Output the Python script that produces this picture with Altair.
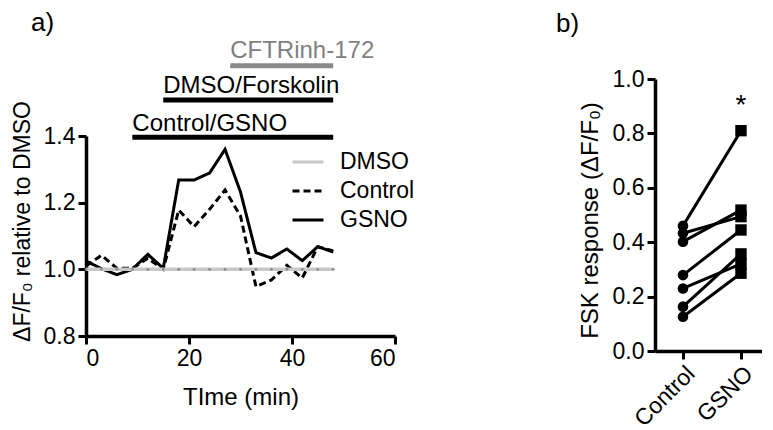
import altair as alt
import pandas as pd

# ---------------- data: panel a ----------------
time_min = [0, 3, 6, 9, 12, 15, 18, 21, 24, 27, 30, 33, 36, 39, 42, 45, 48]
dmso = [1.0, 1.0, 1.0, 1.0, 1.0, 1.0, 1.0, 1.0, 1.0, 1.0, 1.0, 1.0, 1.0, 1.0, 1.0, 1.0, 1.0]
control = [1.01, 1.042, 1.003, 1.003, 1.033, 1.0, 1.178, 1.128, 1.18, 1.238, 1.16,
           0.948, 0.968, 1.012, 0.974, 1.068, 1.055]
gsno = [1.025, 1.002, 0.984, 1.0, 1.045, 1.003, 1.268, 1.268, 1.289, 1.36, 1.232,
        1.05, 1.034, 1.061, 1.026, 1.068, 1.052]
series_names = ["DMSO", "Control", "GSNO"]

treat_labels = ["Control/GSNO", "DMSO/Forskolin", "CFTRinh-172"]
treat_start = [9, 15, 28]
treat_end = [48, 48, 48]
treat_bar_level = [1.396, 1.508, 1.611]
treat_text_level = [1.416, 1.528, 1.633]
treat_kind = ["black", "black", "gray"]

# ---------------- data: panel b ----------------
pair_groups = ["Control", "GSNO"]
resp_control = [0.46, 0.433, 0.402, 0.279, 0.23, 0.163, 0.126]
resp_gsno = [0.81, 0.494, 0.518, 0.445, 0.32, 0.357, 0.286]
sig_label = "*"
sig_level = 0.87

FONT = "Liberation Sans"

# ---------------- tables ----------------
rows = []
for name, vals in zip(series_names, [dmso, control, gsno]):
    for t, v in zip(time_min, vals):
        rows.append({"t": t, "v": v, "series": name})
df_a = pd.DataFrame(rows)

df_treat = pd.DataFrame({"label": treat_labels, "t": treat_start, "t2": treat_end,
                         "v": treat_bar_level, "vt": treat_text_level, "kind": treat_kind})

prow = []
for i, (c, g) in enumerate(zip(resp_control, resp_gsno)):
    prow.append({"pair": i, "group": pair_groups[0], "resp": c})
    prow.append({"pair": i, "group": pair_groups[1], "resp": g})
df_b = pd.DataFrame(prow)
df_sig = pd.DataFrame({"group": [pair_groups[1]], "resp": [sig_level], "label": [sig_label]})

# ---------------- panel a ----------------
ya_scale = alt.Scale(domain=[0.8, 1.4], range=[296, 96], nice=False, zero=False)
xa = alt.X("t:Q", scale=alt.Scale(domain=[0, 60], nice=False),
           axis=alt.Axis(values=[0, 20, 40, 60], title="TIme (min)", titlePadding=15,
                         titleFontSize=24))
ya = alt.Y("v:Q", scale=ya_scale,
           axis=alt.Axis(values=[0.8, 1.0, 1.2, 1.4], format=".1f",
                         title="ΔF/F₀ relative to DMSO", titleY=181, titlePadding=9,
                         titleFontSize=23))

leg = alt.Legend(orient="none", legendX=205, legendY=105, title=None)
col = alt.Color("series:N", scale=alt.Scale(domain=series_names, range=["#c8c8c8", "black", "black"]),
                legend=leg)
dash = alt.StrokeDash("series:N", scale=alt.Scale(domain=series_names, range=[[1, 0], [7, 4], [1, 0]]),
                      legend=leg)

base_a = alt.Chart(df_a)
lines_black = base_a.transform_filter(alt.datum.series != "DMSO").mark_line(strokeWidth=3).encode(
    x=xa, y=ya, color=col, strokeDash=dash, detail="series:N")
line_dmso = base_a.transform_filter(alt.datum.series == "DMSO").mark_line(strokeWidth=3.5).encode(
    x=xa, y=ya, color=col, strokeDash=dash)
dots_dmso = base_a.transform_filter(alt.datum.series == "DMSO").mark_circle(
    size=8, color="#8a8a8a", opacity=1).encode(x=xa, y=ya)

base_t = alt.Chart(df_treat)
bars_black = base_t.transform_filter(alt.datum.kind == "black").mark_rule(
    strokeWidth=5, color="black").encode(x=xa, x2="t2:Q", y=ya)
bars_gray = base_t.transform_filter(alt.datum.kind == "gray").mark_rule(
    strokeWidth=5, color="#8a8a8a").encode(x=xa, x2="t2:Q", y=ya)
text_black = base_t.transform_filter(alt.datum.kind == "black").mark_text(
    align="left", baseline="alphabetic", fontSize=24, font=FONT, color="black").encode(
    x=xa, y=alt.Y("vt:Q", scale=ya_scale), text="label:N")
text_gray = base_t.transform_filter(alt.datum.kind == "gray").mark_text(
    align="left", baseline="alphabetic", fontSize=24, font=FONT, color="#7f7f7f").encode(
    x=xa, y=alt.Y("vt:Q", scale=ya_scale), text="label:N")

panel_a = alt.layer(lines_black, line_dmso, dots_dmso, bars_black, bars_gray, text_black, text_gray).properties(
    width=309, height=296,
    title=alt.TitleParams("a)", anchor="start", frame="group", fontSize=26, font=FONT,
                          fontWeight="normal", dx=-55, offset=3, color="black"))

# ---------------- panel b ----------------
xb = alt.X("group:N", sort=pair_groups,
           scale=alt.Scale(type="point", domain=pair_groups, padding=0.4224, align=0.571),
           axis=alt.Axis(labelAngle=-45, labelAlign="right", labelBaseline="top", title=None))
yb = alt.Y("resp:Q", scale=alt.Scale(domain=[0, 1], range=[311, 39], nice=False),
           axis=alt.Axis(values=[0, 0.2, 0.4, 0.6, 0.8, 1.0], format=".1f",
                         title="FSK response (ΔF/F₀)", titleY=180, titlePadding=10,
                         titleFontSize=24))

base_b = alt.Chart(df_b)
pair_lines = base_b.mark_line(color="black", strokeWidth=3).encode(x=xb, y=yb, detail="pair:N")
circles = base_b.transform_filter(alt.datum.group == pair_groups[0]).mark_point(
    shape="circle", filled=True, size=113, color="black", opacity=1).encode(x=xb, y=yb)
squares = base_b.transform_filter(alt.datum.group == pair_groups[1]).mark_point(
    shape="square", filled=True, size=130, color="black", opacity=1).encode(x=xb, y=yb)
star = alt.Chart(df_sig).mark_text(fontSize=28, font=FONT, baseline="alphabetic", color="black").encode(
    x=xb, y=yb, text="label:N")

panel_b = alt.layer(pair_lines, circles, squares, star).properties(
    width=107, height=311,
    title=alt.TitleParams("b)", anchor="start", frame="group", fontSize=26, font=FONT,
                          fontWeight="normal", dx=-99, offset=3, color="black"))

chart = alt.hconcat(panel_a, panel_b, spacing=159).properties(
    padding={"left": 3, "top": 2, "right": 0, "bottom": 0}
).configure_view(stroke=None).configure_axis(
    grid=False, domainColor="black", domainWidth=3.5, tickColor="black", tickWidth=3, tickSize=8,
    labelFont=FONT, labelFontSize=23, labelColor="black", labelPadding=3,
    titleFont=FONT, titleFontSize=22, titleFontWeight="normal", titleColor="black"
).configure_legend(
    labelFont=FONT, labelFontSize=23, labelColor="black", symbolType="stroke", symbolSize=961,
    symbolStrokeWidth=3, rowPadding=0, padding=0, labelOffset=15
)

chart.save("out.html", embed_options={"renderer": "svg", "actions": False})
